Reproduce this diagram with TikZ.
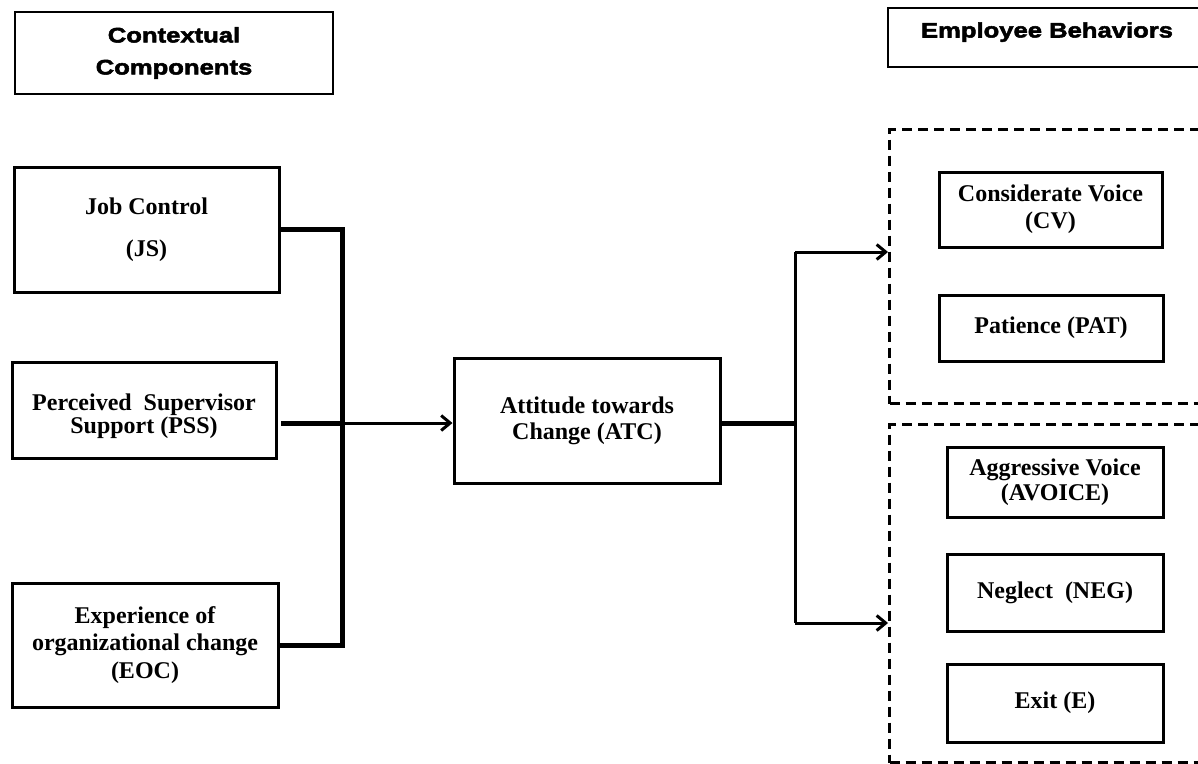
\documentclass[tikz,border=0pt]{standalone}
\usepackage{fontspec}
\setmainfont{Liberation Serif}
\newfontfamily\hdrfont[FakeStretch=1.22,BoldFeatures={FakeBold=2.5}]{Liberation Sans}
\usetikzlibrary{arrows.meta}
\tikzset{
  hdrbox/.style={draw, line width=2pt, inner sep=0pt, align=center,
    font=\hdrfont\bfseries\fontsize{21}{32}\selectfont},
  itembox/.style={draw, line width=3pt, inner sep=0pt, align=center,
    font=\bfseries\fontsize{24}{26}\selectfont},
  grpbox/.style={draw, line width=3pt, dash pattern=on 10pt off 6pt, inner sep=0pt},
  busline/.style={line width=5pt},
  midline/.style={line width=3pt},
  arr/.style={line width=3pt, -{Straight Barb[length=9pt,width=15pt,line width=3pt]}}
}
\begin{document}
\begin{tikzpicture}[x=1pt,y=-1pt]
\useasboundingbox (0,0) rectangle (1198,763);
\clip (0,0) rectangle (1198,763);
\fill[white] (0,0) rectangle (1198,763);

% headers
\node[hdrbox, minimum width=318pt, minimum height=82pt] (hdrA) at (174,53) {Contextual\\Components};
\node[hdrbox, minimum width=318pt, minimum height=59pt, text height=15pt, text depth=15pt] (hdrB) at (1047,37.5) {Employee Behaviors};

% left column
\node[itembox, minimum width=265pt, minimum height=125pt] (jc) at (146.5,229.5) {Job Control\\[16pt](JS)};
\node[itembox, minimum width=264pt, minimum height=96pt, font=\bfseries\fontsize{24}{20}\selectfont, text height=51pt, text depth=5pt] (pss) at (144,410) {Perceived \ Supervisor\\Support (PSS)};
\node[itembox, minimum width=266pt, minimum height=124pt, font=\bfseries\fontsize{24}{27.5}\selectfont] (eoc) at (145,645) {Experience of\\organizational change\\(EOC)};

% middle
\node[itembox, minimum width=266pt, minimum height=125pt] (atc) at (587,420.5) {Attitude towards\\Change (ATC)};

% groups
\node[grpbox, minimum width=330pt, minimum height=274pt, anchor=north west] (grpA) at (888,128) {};
\node[grpbox, minimum width=330pt, minimum height=338pt, anchor=north west] (grpB) at (888,423) {};

% right items
\node[itembox, minimum width=223pt, minimum height=75pt, font=\bfseries\fontsize{24}{27}\selectfont] (cv) at (1050.5,209.5) {Considerate Voice\\(CV)};
\node[itembox, minimum width=224pt, minimum height=66pt] (pat) at (1051,328) {Patience (PAT)};
\node[itembox, minimum width=216pt, minimum height=70pt, font=\bfseries\fontsize{24}{25}\selectfont] (av) at (1055,482) {Aggressive Voice\\(AVOICE)};
\node[itembox, minimum width=216pt, minimum height=77pt] (neg) at (1055,592.5) {Neglect \ (NEG)};
\node[itembox, minimum width=216pt, minimum height=78pt] (ex) at (1055,703) {Exit (E)};

% connectors
\coordinate (lbus) at (342,423);
\coordinate (pssout) at (281,423);
\coordinate (rbus) at (795,423);
\coordinate (rtop) at (795,252);
\coordinate (rbot) at (795,623);

\draw[busline] (jc.east) -| (lbus) |- (eoc.east);
\draw[busline] (pssout) -- (lbus);
\draw[arr] (lbus) -- (lbus -| atc.west);
\draw[busline] (rbus -| atc.east) -- (rbus);
\draw[midline] (rtop) -- (rbot);
\draw[arr] (rtop) -- (rtop -| grpA.west);
\draw[arr] (rbot) -- (rbot -| grpB.west);
\end{tikzpicture}
\end{document}
